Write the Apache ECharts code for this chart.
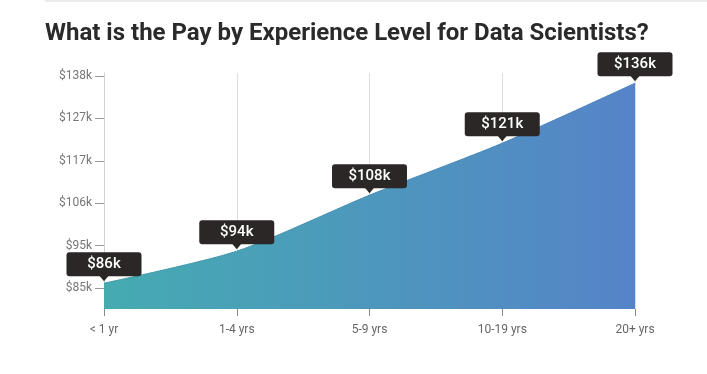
<!DOCTYPE html>
<html>
<head>
<meta charset="utf-8">
<script src="https://cdn.jsdelivr.net/npm/echarts@6/dist/echarts.min.js"></script>
<style>
  html, body { margin: 0; padding: 0; background: #fff; }
  #chart { width: 707px; height: 374px; }
</style>
</head>
<body>
<div id="chart"></div>
<script>
// experience levels and median pay (in $k)
const levels = ['< 1 yr', '1-4 yrs', '5-9 yrs', '10-19 yrs', '20+ yrs']
const pay = [86, 94, 108, 121, 136]

// y tick positions (labels are rounded to whole $k)
const yTicks = [84.8, 95.4, 106, 116.6, 127.2, 137.8]

const chart = echarts.init(document.getElementById('chart'))

const option = {
  animation: false,
  textStyle: { fontFamily: 'Roboto' },
  title: {
    text: 'What is the Pay by Experience Level for Data Scientists?',
    left: 40,
    top: 17,
    textStyle: {
      fontFamily: 'Roboto',
      fontSize: 24,
      fontWeight: 'bold',
      color: '#2a2a2a',
    },
  },
  graphic: [
    {
      type: 'rect',
      shape: { x: 45, y: 0, width: 662, height: 2 },
      style: { fill: '#ececec' },
    },
  ],
  grid: { left: 104, right: 72, top: 73, bottom: 65 },
  xAxis: {
    type: 'category',
    data: levels,
    boundaryGap: false,
    axisLine: { show: false },
    axisTick: { show: true, length: 7, lineStyle: { color: '#8a8a8a' } },
    axisLabel: { margin: 15, fontSize: 12, color: '#666' },
    splitLine: { show: true, lineStyle: { color: '#dedede' } },
  },
  yAxis: {
    type: 'value',
    min: 79.55,
    max: 138.55,
    axisLine: { show: true, lineStyle: { color: '#d0d0d0' } },
    axisTick: {
      show: true,
      length: 9,
      customValues: yTicks,
      lineStyle: { color: '#999' },
    },
    axisLabel: {
      customValues: yTicks,
      margin: 12,
      fontSize: 12,
      color: '#777',
      formatter: (v) => '$' + Math.round(v) + 'k',
    },
    splitLine: { show: false },
  },
  series: [
    {
      name: 'Pay',
      type: 'line',
      data: pay,
      smooth: 0.25,
      symbol: 'none',
      lineStyle: {
        width: 1,
        color: new echarts.graphic.LinearGradient(0, 0, 1, 0, [
          { offset: 0, color: '#3a98a2' },
          { offset: 1, color: '#4a7dc0' },
        ]),
      },
      areaStyle: {
        opacity: 1,
        color: new echarts.graphic.LinearGradient(0, 0, 1, 0, [
          { offset: 0, color: '#45abb1' },
          { offset: 1, color: '#5584c8' },
        ]),
      },
    },
    {
      name: 'Labels',
      type: 'scatter',
      data: pay,
      symbol: 'triangle',
      symbolRotate: 180,
      symbolSize: [10, 6],
      symbolOffset: [0, -5],
      itemStyle: { color: '#2b2726', opacity: 1 },
      z: 5,
      label: {
        show: true,
        position: 'top',
        distance: -1,
        formatter: (p) => '$' + p.value + 'k',
        backgroundColor: '#2b2726',
        borderRadius: 3,
        width: 67,
        align: 'center',
        padding: [5, 4],
        lineHeight: 14,
        fontSize: 15,
        fontWeight: 500,
        color: '#fff',
      },
    },
  ],
}

chart.setOption(option)
</script>
</body>
</html>
